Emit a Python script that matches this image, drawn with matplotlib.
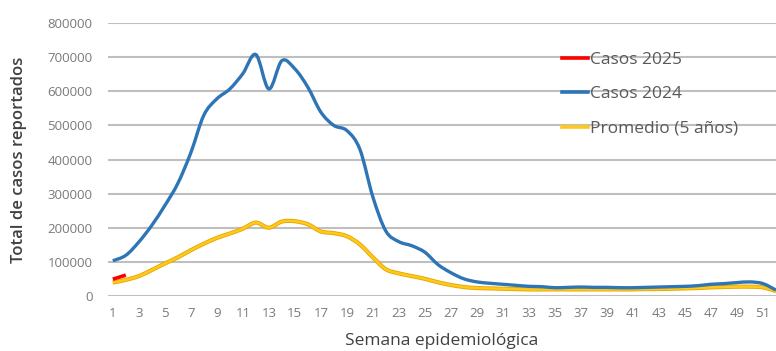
import matplotlib
matplotlib.use('Agg')
import matplotlib.pyplot as plt
from matplotlib.path import Path
from matplotlib.patches import PathPatch
from matplotlib.lines import Line2D

plt.rcParams['font.family'] = ['Open Sans', 'DejaVu Sans']

# semanas epidemiologicas 1..52
semanas = list(range(1, 53))

casos_2025 = [49000, 61000]

casos_2024 = [103000, 119000, 158000, 207000, 265000, 330000, 420000, 530000,
              578000, 607000, 652000, 708000, 607000, 690000, 666000, 612000,
              539000, 500000, 485000, 430000, 290000, 190000, 159000, 147000,
              128000, 92000, 68000, 50000, 41000, 37000, 34000, 31000,
              28000, 27000, 24000, 25000, 26000, 25000, 25000, 24000,
              24000, 25000, 26000, 27000, 28000, 30000, 34000, 36000,
              39000, 41000, 36000, 17000]

promedio_5 = [39000, 47000, 58000, 76000, 95000, 113000, 134000, 153000,
              170000, 183000, 197000, 215000, 200000, 218000, 219000, 210000,
              189000, 184000, 175000, 151000, 113000, 78000, 66000, 58000,
              50000, 40000, 32000, 26000, 23000, 22000, 21000, 20000,
              19000, 19000, 19000, 19000, 19000, 19000, 19000, 19000,
              19000, 20000, 20000, 21000, 22000, 23000, 25000, 26000,
              27000, 27000, 25000, 14000]

yticks = list(range(0, 800001, 100000))
xticks = list(range(1, 52, 2))


def curva_suave(x, y):
    # linea suavizada tipo Excel: segmentos bezier que pasan por cada punto
    verts = [(x[0], y[0])]
    codes = [Path.MOVETO]
    n = len(x)
    for i in range(n - 1):
        x0, y0 = (x[i - 1], y[i - 1]) if i > 0 else (x[i], y[i])
        x1, y1 = x[i], y[i]
        x2, y2 = x[i + 1], y[i + 1]
        x3, y3 = (x[i + 2], y[i + 2]) if i + 2 < n else (x2, y2)
        c1 = (x1 + (x2 - x0) / 6, y1 + (y2 - y0) / 6)
        c2 = (x2 - (x3 - x1) / 6, y2 - (y3 - y1) / 6)
        verts += [c1, c2, (x2, y2)]
        codes += [Path.CURVE4] * 3
    return Path(verts, codes)


def dibujar(ax, x, y, color, lw, z):
    ax.add_patch(PathPatch(curva_suave(x, y), facecolor='none', edgecolor=color,
                           lw=lw, joinstyle='round', capstyle='butt', zorder=z))


fig = plt.figure(figsize=(7.76, 3.51), dpi=100)
ax = fig.add_axes([0.139, 0.157, 0.861, 0.777])

dibujar(ax, semanas, promedio_5, '#E3A600', 3.0, 2)
dibujar(ax, semanas, promedio_5, '#FFC81A', 1.8, 2)
dibujar(ax, semanas, casos_2024, '#2E75B6', 2.4, 3)
dibujar(ax, semanas[:len(casos_2025)], casos_2025, '#FF0000', 2.6, 4)

ax.set_xlim(0.62, 52)
ax.set_ylim(0, 800000)
ax.set_yticks(yticks)
ax.set_yticklabels([str(v) for v in yticks])
ax.set_xticks(xticks)

ax.grid(axis='y', color='#BFBFBF', lw=1.5)
ax.set_axisbelow(True)
for s in ax.spines.values():
    s.set_visible(False)
ax.tick_params(length=0, colors='#7A7A7A', labelsize=9.5)
ax.tick_params(axis='x', pad=8)
ax.tick_params(axis='y', pad=11)

ax.set_ylabel('Total de casos reportados', fontsize=12, color='#404040',
              fontweight='semibold', labelpad=15)
ax.set_xlabel('Semana epidemiológica', fontsize=12.5, color='#404040', labelpad=9)

handles = [Line2D([], [], color='#FF0000', lw=2.6),
           Line2D([], [], color='#2E75B6', lw=2.6),
           Line2D([], [], color='#FFC81A', lw=2.6)]
leg = ax.legend(handles, ['Casos 2025', 'Casos 2024', 'Promedio (5 años)'],
                loc='upper left', bbox_to_anchor=(0.68, 0.895), frameon=False,
                borderpad=0, borderaxespad=0, handlelength=1.5,
                handletextpad=0.1, labelspacing=1.05, fontsize=12.5)
for t in leg.get_texts():
    t.set_color('#595959')

fig.savefig('out.png', dpi=100)
